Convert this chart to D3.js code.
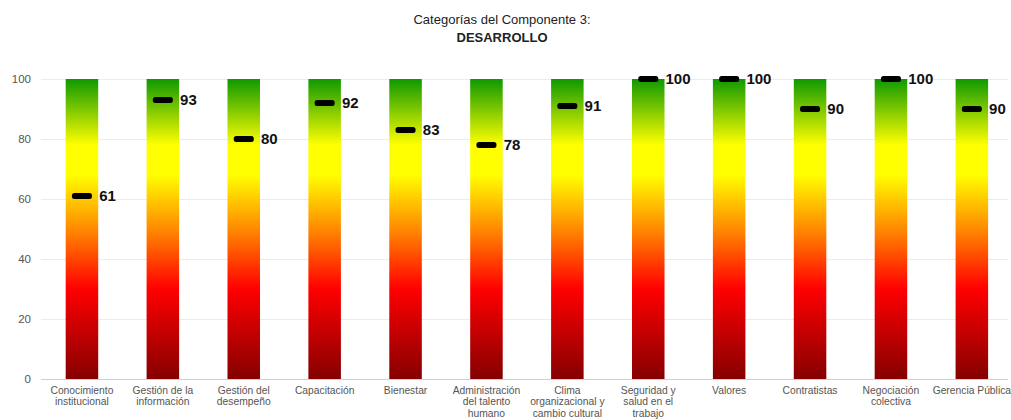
<!DOCTYPE html>
<html>
<head>
<meta charset="utf-8">
<script src="https://cdn.jsdelivr.net/npm/d3@7"></script>
<style>
  html, body { margin: 0; padding: 0; background: #fff; }
  svg { display: block; font-family: "Liberation Sans", Arial, sans-serif; }
</style>
</head>
<body>
<svg id="chart" width="1011" height="420"></svg>
<script>
// Category names (line breaks mark where each axis label wraps)
const categories = [
  "Conocimiento\ninstitucional",
  "Gestión de la\ninformación",
  "Gestión del\ndesempeño",
  "Capacitación",
  "Bienestar",
  "Administración\ndel talento\nhumano",
  "Clima\norganizacional y\ncambio cultural",
  "Seguridad y\nsalud en el\ntrabajo",
  "Valores",
  "Contratistas",
  "Negociación\ncolectiva",
  "Gerencia Pública"
];
// Score of each category (0–100)
const scores = [61, 93, 80, 92, 83, 78, 91, 100, 100, 90, 100, 90];
// Full-scale background bar value
const scaleMax = [100, 100, 100, 100, 100, 100, 100, 100, 100, 100, 100, 100];
const yTicks = [0, 20, 40, 60, 80, 100];
const titleLines = ["Categorías del Componente 3:", "DESARROLLO"];

const svg = d3.select("#chart");
const margin = { top: 79, right: 3, bottom: 40, left: 41 };
const W = 1011, H = 420;
const innerW = W - margin.left - margin.right;
const innerH = H - margin.top - margin.bottom - 1;

const g = svg.append("g").attr("transform", `translate(${margin.left},${margin.top})`);

const x = d3.scaleBand().domain(categories).range([0.5, 971.3]).paddingInner(0.598).paddingOuter(0.299);
const y = d3.scaleLinear().domain([0, 100]).range([innerH, 0]);

// Traffic-light gradient: dark red at 0 → red → yellow → green at 100
const defs = svg.append("defs");
const grad = defs.append("linearGradient")
  .attr("id", "semaforo")
  .attr("gradientUnits", "userSpaceOnUse")
  .attr("x1", 0).attr("x2", 0)
  .attr("y1", y(0)).attr("y2", y(100));
[
  [0, "#850000"],
  [0.30, "#ff0000"],
  [0.50, "#ff8a00"],
  [0.68, "#ffff00"],
  [0.78, "#ffff00"],
  [1, "#0f9900"]
].forEach(([o, c]) => grad.append("stop").attr("offset", o).attr("stop-color", c));

// Grid lines
g.append("g")
  .selectAll("line")
  .data(yTicks.filter(t => t > 0))
  .join("line")
  .attr("x1", 0).attr("x2", innerW)
  .attr("y1", d => Math.round(y(d)) + 0.5).attr("y2", d => Math.round(y(d)) + 0.5)
  .attr("stroke", "#ececec").attr("stroke-width", 1);

// Y axis labels
const yAxis = g.append("g")
  .call(d3.axisLeft(y).tickValues(yTicks).tickSize(0).tickPadding(10));
yAxis.select(".domain").remove();
yAxis.selectAll("text")
  .attr("fill", "#555").attr("font-size", "11.5px")
  .attr("font-family", "Liberation Sans, Arial, sans-serif");

// Full-height gradient bars
g.append("g")
  .selectAll("rect")
  .data(categories)
  .join("rect")
  .attr("x", d => x(d))
  .attr("width", x.bandwidth())
  .attr("y", (d, i) => y(scaleMax[i]))
  .attr("height", (d, i) => y(0) - y(scaleMax[i]))
  .attr("fill", "url(#semaforo)");

// Baseline
g.append("line")
  .attr("x1", 0).attr("x2", innerW)
  .attr("y1", innerH + 0.5).attr("y2", innerH + 0.5)
  .attr("stroke", "#d0d0d0");

// Score markers
const markW = 20, markH = 6;
g.append("g")
  .selectAll("rect")
  .data(categories)
  .join("rect")
  .attr("x", d => x(d) + x.bandwidth() / 2 - markW / 2)
  .attr("y", (d, i) => y(scores[i]) - markH / 2)
  .attr("width", markW)
  .attr("height", markH)
  .attr("rx", 2.5)
  .attr("fill", "#000");

// Score labels
g.append("g")
  .selectAll("text")
  .data(categories)
  .join("text")
  .attr("x", d => x(d) + x.bandwidth() + 1)
  .attr("y", (d, i) => y(scores[i]))
  .attr("dy", "0.36em")
  .attr("font-size", "15px")
  .attr("font-weight", "bold")
  .attr("fill", "#111")
  .text((d, i) => scores[i]);

// X axis labels
const xl = g.append("g")
  .selectAll("text")
  .data(categories)
  .join("text")
  .attr("x", d => x(d) + x.bandwidth() / 2)
  .attr("y", innerH + 15)
  .attr("text-anchor", "middle")
  .attr("font-size", "10.3px")
  .attr("fill", "#555");
xl.each(function(d) {
  const t = d3.select(this);
  d.split("\n").forEach((line, k) => {
    t.append("tspan")
      .attr("x", x(d) + x.bandwidth() / 2)
      .attr("dy", k === 0 ? 0 : 11.3)
      .text(line);
  });
});

// Title
const title = svg.append("text")
  .attr("x", 502)
  .attr("y", 24)
  .attr("text-anchor", "middle")
  .attr("font-size", "13px")
  .attr("fill", "#222");
title.append("tspan").attr("x", 502).text(titleLines[0]);
title.append("tspan").attr("x", 502).attr("dy", 18).attr("font-weight", "bold").text(titleLines[1]);
</script>
</body>
</html>
